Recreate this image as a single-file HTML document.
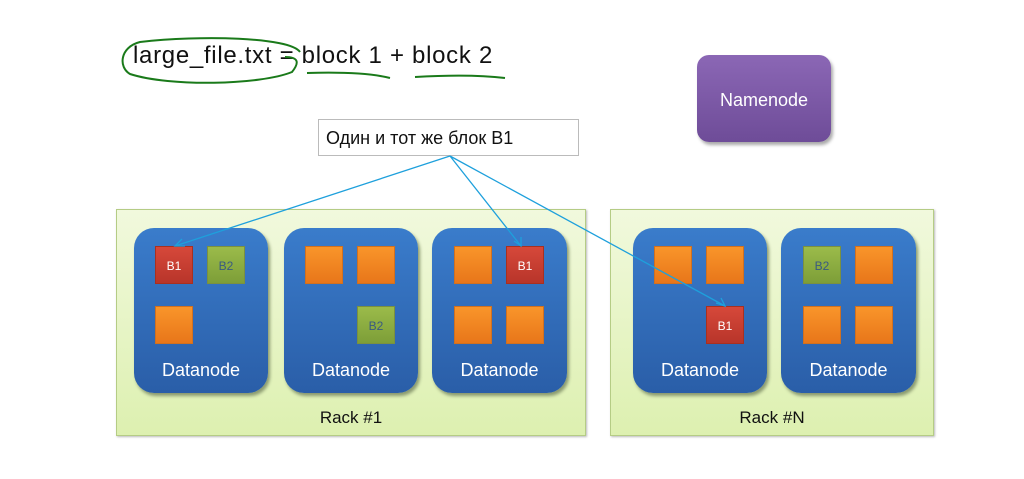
<!DOCTYPE html>
<html><head><meta charset="utf-8"><style>
body{margin:0;width:1024px;height:479px;background:#fff;position:relative;overflow:hidden;font-family:"Liberation Sans","Noto Sans CJK SC",sans-serif}
.a{position:absolute;box-sizing:border-box}
.rack{background:linear-gradient(#f1f9dd,#ddf0b0);border:1px solid #b5cc85;box-shadow:1px 1px 2px #bbb}
.dn{background:linear-gradient(#3a7ccb,#2a5ea8);border-radius:20px;box-shadow:2px 3px 3px #8a9a70}
.dn span{position:absolute;left:0;right:0;top:132px;text-align:center;color:#fff;font-size:18px}
.sq{width:38px;height:38px;background:linear-gradient(#f9952a,#e8761a);border:1px solid #d07020;font-size:12px;text-align:center;line-height:38px}
.r{background:linear-gradient(#d6483a,#b8352a);color:#fff;border-color:#a83020}
.g{background:linear-gradient(#9bbb4a,#7d9e38);color:#3a5a80;border-color:#7a9040}
.lbl{font-size:17px;color:#111;text-align:center}
</style></head><body>
<div class="a" style="left:133px;top:42px;font-size:24px;color:#111;white-space:nowrap;letter-spacing:0.7px;word-spacing:0px">large_file.txt = block 1 + block 2</div>
<div class="a" style="left:697px;top:55px;width:134px;height:87px;border-radius:12px;background:linear-gradient(#8b67b5,#6e4c98);box-shadow:2px 3px 3px #aaa;color:#fff;font-size:18px;text-align:center;line-height:90px">Namenode</div>
<div class="a" style="left:318px;top:119px;width:261px;height:37px;border:1px solid #bbb;background:#fff;font-size:18px;line-height:37px;padding-left:7px;color:#111">Один и тот же блок B1</div>

<div class="a rack" style="left:116px;top:209px;width:470px;height:227px"></div>
<div class="a rack" style="left:610px;top:209px;width:324px;height:227px"></div>
<div class="a lbl" style="left:116px;top:408px;width:470px">Rack #1</div>
<div class="a lbl" style="left:610px;top:408px;width:324px">Rack #N</div>

<div class="a dn" style="left:134px;top:228px;width:134px;height:165px"><span>Datanode</span></div>
<div class="a dn" style="left:284px;top:228px;width:134px;height:165px"><span>Datanode</span></div>
<div class="a dn" style="left:432px;top:228px;width:135px;height:165px"><span>Datanode</span></div>
<div class="a dn" style="left:633px;top:228px;width:134px;height:165px"><span>Datanode</span></div>
<div class="a dn" style="left:781px;top:228px;width:135px;height:165px"><span>Datanode</span></div>

<div class="a sq r" style="left:155px;top:246px">B1</div>
<div class="a sq g" style="left:207px;top:246px">B2</div>
<div class="a sq" style="left:155px;top:306px"></div>

<div class="a sq" style="left:305px;top:246px"></div>
<div class="a sq" style="left:357px;top:246px"></div>
<div class="a sq g" style="left:357px;top:306px">B2</div>

<div class="a sq" style="left:454px;top:246px"></div>
<div class="a sq r" style="left:506px;top:246px">B1</div>
<div class="a sq" style="left:454px;top:306px"></div>
<div class="a sq" style="left:506px;top:306px"></div>

<div class="a sq" style="left:654px;top:246px"></div>
<div class="a sq" style="left:706px;top:246px"></div>
<div class="a sq r" style="left:706px;top:306px">B1</div>

<div class="a sq g" style="left:803px;top:246px">B2</div>
<div class="a sq" style="left:855px;top:246px"></div>
<div class="a sq" style="left:803px;top:306px"></div>
<div class="a sq" style="left:855px;top:306px"></div>

<svg class="a" style="left:0;top:0" width="1024" height="479">
<g stroke="#1ea0dc" stroke-width="1.3" fill="none">
<path d="M450 156 L175 246 M450 156 L521 246 M450 156 L725 306"/>
<path d="M182 239 L175 246 L185 246 M514 241 L521 246 L521 237 M716 303 L725 306 L721 298"/>
</g>
<g stroke="#1a7a1a" stroke-width="2" fill="none">
<path d="M300 52 C290 37 200 35 140 42 C120 47 118 67 130 74 C170 87 260 85 292 72 C300 62 298 57 285 57"/>
<path d="M307 73 C340 72 370 73 390 78"/>
<path d="M415 77 C450 75 480 75 505 78"/>
</g>
</svg>
</body></html>
